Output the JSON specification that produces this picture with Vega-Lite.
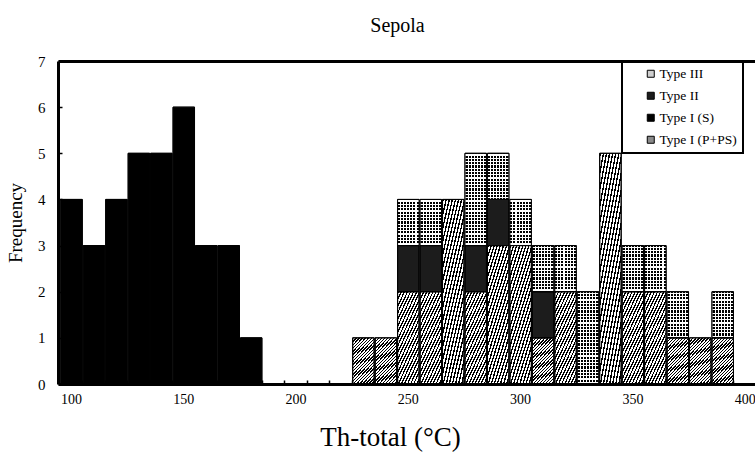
{
  "$schema": "https://vega.github.io/schema/vega-lite/v6.json",
  "width": 697,
  "height": 323,
  "autosize": {"type": "none"},
  "padding": {"left": 58, "top": 61, "right": 0, "bottom": 68},
  "background": "white",
  "title": {"text": "Sepola", "fontSize": 20, "fontWeight": "normal", "color": "black", "anchor": "middle", "frame": "group", "dx": -9, "offset": 18},
  "config": {
    "view": {"stroke": null},
    "font": "Liberation Serif",
    "legend": {"strokeWidth": 2}
  },
  "data": {"values": [
    {"lo": 95, "hi": 105, "type": "Type I (S)", "n": 4},
    {"lo": 105, "hi": 115, "type": "Type I (S)", "n": 3},
    {"lo": 115, "hi": 125, "type": "Type I (S)", "n": 4},
    {"lo": 125, "hi": 135, "type": "Type I (S)", "n": 5},
    {"lo": 135, "hi": 145, "type": "Type I (S)", "n": 5},
    {"lo": 145, "hi": 155, "type": "Type I (S)", "n": 6},
    {"lo": 155, "hi": 165, "type": "Type I (S)", "n": 3},
    {"lo": 165, "hi": 175, "type": "Type I (S)", "n": 3},
    {"lo": 175, "hi": 185, "type": "Type I (S)", "n": 1},
    {"lo": 225, "hi": 235, "type": "Type I (P+PS)", "n": 1},
    {"lo": 235, "hi": 245, "type": "Type I (P+PS)", "n": 1},
    {"lo": 245, "hi": 255, "type": "Type I (P+PS)", "n": 2},
    {"lo": 255, "hi": 265, "type": "Type I (P+PS)", "n": 2},
    {"lo": 265, "hi": 275, "type": "Type I (P+PS)", "n": 4},
    {"lo": 275, "hi": 285, "type": "Type I (P+PS)", "n": 2},
    {"lo": 285, "hi": 295, "type": "Type I (P+PS)", "n": 3},
    {"lo": 295, "hi": 305, "type": "Type I (P+PS)", "n": 3},
    {"lo": 305, "hi": 315, "type": "Type I (P+PS)", "n": 1},
    {"lo": 315, "hi": 325, "type": "Type I (P+PS)", "n": 2},
    {"lo": 335, "hi": 345, "type": "Type I (P+PS)", "n": 5},
    {"lo": 345, "hi": 355, "type": "Type I (P+PS)", "n": 2},
    {"lo": 355, "hi": 365, "type": "Type I (P+PS)", "n": 2},
    {"lo": 365, "hi": 375, "type": "Type I (P+PS)", "n": 1},
    {"lo": 375, "hi": 385, "type": "Type I (P+PS)", "n": 1},
    {"lo": 385, "hi": 395, "type": "Type I (P+PS)", "n": 1},
    {"lo": 245, "hi": 255, "type": "Type II", "n": 1},
    {"lo": 255, "hi": 265, "type": "Type II", "n": 1},
    {"lo": 275, "hi": 285, "type": "Type II", "n": 1},
    {"lo": 285, "hi": 295, "type": "Type II", "n": 1},
    {"lo": 305, "hi": 315, "type": "Type II", "n": 1},
    {"lo": 245, "hi": 255, "type": "Type III", "n": 1},
    {"lo": 255, "hi": 265, "type": "Type III", "n": 1},
    {"lo": 275, "hi": 285, "type": "Type III", "n": 2},
    {"lo": 285, "hi": 295, "type": "Type III", "n": 1},
    {"lo": 295, "hi": 305, "type": "Type III", "n": 1},
    {"lo": 305, "hi": 315, "type": "Type III", "n": 1},
    {"lo": 315, "hi": 325, "type": "Type III", "n": 1},
    {"lo": 325, "hi": 335, "type": "Type III", "n": 2},
    {"lo": 345, "hi": 355, "type": "Type III", "n": 1},
    {"lo": 355, "hi": 365, "type": "Type III", "n": 1},
    {"lo": 365, "hi": 375, "type": "Type III", "n": 1},
    {"lo": 385, "hi": 395, "type": "Type III", "n": 1}
  ]},
  "encoding": {
    "x": {
      "field": "lo", "type": "quantitative", "bin": "binned",
      "scale": {"domain": [94.2, 404.6], "nice": false, "zero": false},
      "axis": {
        "values": [100, 150, 200, 250, 300, 350, 400, 105, 115, 125, 135, 145, 155, 165, 175, 185, 195, 205, 215, 225, 235, 245, 255, 265, 275, 285, 295, 305, 315, 325, 335, 345, 355, 365, 375, 385, 395],
        "labelExpr": "datum.value % 50 === 0 ? datum.label : ''",
        "labelOverlap": false,
        "labelFlush": false,
        "tickSize": -4,
        "tickWidth": 1.5,
        "tickColor": "black",
        "tickOpacity": {"condition": {"test": "datum.value % 50 === 0", "value": 0}, "value": 1},
        "labelPadding": 12,
        "labelFontSize": 14,
        "labelColor": "black",
        "domainColor": "black",
        "domainWidth": 3,
        "grid": false,
        "title": "Th-total (°C)",
        "titleFontSize": 27,
        "titleFontWeight": "normal",
        "titleColor": "black",
        "titleX": 332,
        "titleY": 61,
        "titleAlign": "center",
        "titleBaseline": "alphabetic",
        "zindex": 1
      }
    },
    "x2": {"field": "hi"},
    "y": {
      "field": "n", "type": "quantitative", "stack": "zero",
      "scale": {"domain": [0, 7], "nice": false},
      "axis": {
        "values": [0, 1, 2, 3, 4, 5, 6, 7],
        "tickSize": -4,
        "tickWidth": 1.5,
        "tickColor": "black",
        "labelPadding": 17,
        "labelFontSize": 15,
        "labelColor": "black",
        "domainColor": "black",
        "domainWidth": 3,
        "grid": true,
        "gridColor": "black",
        "gridWidth": 3,
        "gridOpacity": {"condition": {"test": "datum.value === 7", "value": 1}, "value": 0},
        "title": "Frequency",
        "titleFontSize": 19,
        "titleFontWeight": "normal",
        "titleColor": "black",
        "titleX": -37,
        "titleY": 161.5,
        "titleAngle": -90,
        "titleAlign": "center",
        "titleBaseline": "alphabetic",
        "zindex": 1
      }
    },
    "order": {"field": "type", "type": "ordinal", "sort": "ascending"}
  },
  "layer": [
    {
      "mark": {"type": "bar", "stroke": "black", "strokeWidth": 1},
      "encoding": {
        "fill": {
          "field": "type", "type": "nominal",
          "scale": {"domain": ["Type III", "Type II", "Type I (S)", "Type I (P+PS)"], "range": ["#cfcfcf", "#1c1c1c", "#000000", "#8a8a8a"]},
          "legend": {
            "orient": "none", "legendX": 564, "legendY": 0,
            "title": null,
            "symbolType": "square", "symbolSize": 49,
            "symbolStrokeColor": "black", "symbolStrokeWidth": 1,
            "labelFontSize": 13.5, "labelColor": "black",
            "padding": 6, "symbolOffset": 16, "labelOffset": 2, "rowPadding": 7,
            "strokeColor": "black", "fillColor": "white",
            "labelExpr": "datum.label + '\u2003\u2003\u2003\u2003\u2003'",
            "labelLimit": 300
          },
          "condition": [
            {"test": "datum.type === 'Type I (P+PS)'", "value": {"gradient": "linear", "x1": 0, "y1": 0, "x2": 0.6, "y2": 1.2, "stops": [
              {"offset": 0, "color": "#000"}, {"offset": 0.0214, "color": "#000"}, {"offset": 0.0214, "color": "#fff"}, {"offset": 0.0476, "color": "#fff"},
              {"offset": 0.0476, "color": "#000"}, {"offset": 0.0690, "color": "#000"}, {"offset": 0.0690, "color": "#fff"}, {"offset": 0.0952, "color": "#fff"},
              {"offset": 0.0952, "color": "#000"}, {"offset": 0.1167, "color": "#000"}, {"offset": 0.1167, "color": "#fff"}, {"offset": 0.1429, "color": "#fff"},
              {"offset": 0.1429, "color": "#000"}, {"offset": 0.1643, "color": "#000"}, {"offset": 0.1643, "color": "#fff"}, {"offset": 0.1905, "color": "#fff"},
              {"offset": 0.1905, "color": "#000"}, {"offset": 0.2119, "color": "#000"}, {"offset": 0.2119, "color": "#fff"}, {"offset": 0.2381, "color": "#fff"},
              {"offset": 0.2381, "color": "#000"}, {"offset": 0.2595, "color": "#000"}, {"offset": 0.2595, "color": "#fff"}, {"offset": 0.2857, "color": "#fff"},
              {"offset": 0.2857, "color": "#000"}, {"offset": 0.3071, "color": "#000"}, {"offset": 0.3071, "color": "#fff"}, {"offset": 0.3333, "color": "#fff"},
              {"offset": 0.3333, "color": "#000"}, {"offset": 0.3548, "color": "#000"}, {"offset": 0.3548, "color": "#fff"}, {"offset": 0.3810, "color": "#fff"},
              {"offset": 0.3810, "color": "#000"}, {"offset": 0.4024, "color": "#000"}, {"offset": 0.4024, "color": "#fff"}, {"offset": 0.4286, "color": "#fff"},
              {"offset": 0.4286, "color": "#000"}, {"offset": 0.4500, "color": "#000"}, {"offset": 0.4500, "color": "#fff"}, {"offset": 0.4762, "color": "#fff"},
              {"offset": 0.4762, "color": "#000"}, {"offset": 0.4976, "color": "#000"}, {"offset": 0.4976, "color": "#fff"}, {"offset": 0.5238, "color": "#fff"},
              {"offset": 0.5238, "color": "#000"}, {"offset": 0.5452, "color": "#000"}, {"offset": 0.5452, "color": "#fff"}, {"offset": 0.5714, "color": "#fff"},
              {"offset": 0.5714, "color": "#000"}, {"offset": 0.5929, "color": "#000"}, {"offset": 0.5929, "color": "#fff"}, {"offset": 0.6190, "color": "#fff"},
              {"offset": 0.6190, "color": "#000"}, {"offset": 0.6405, "color": "#000"}, {"offset": 0.6405, "color": "#fff"}, {"offset": 0.6667, "color": "#fff"},
              {"offset": 0.6667, "color": "#000"}, {"offset": 0.6881, "color": "#000"}, {"offset": 0.6881, "color": "#fff"}, {"offset": 0.7143, "color": "#fff"},
              {"offset": 0.7143, "color": "#000"}, {"offset": 0.7357, "color": "#000"}, {"offset": 0.7357, "color": "#fff"}, {"offset": 0.7619, "color": "#fff"},
              {"offset": 0.7619, "color": "#000"}, {"offset": 0.7833, "color": "#000"}, {"offset": 0.7833, "color": "#fff"}, {"offset": 0.8095, "color": "#fff"},
              {"offset": 0.8095, "color": "#000"}, {"offset": 0.8310, "color": "#000"}, {"offset": 0.8310, "color": "#fff"}, {"offset": 0.8571, "color": "#fff"},
              {"offset": 0.8571, "color": "#000"}, {"offset": 0.8786, "color": "#000"}, {"offset": 0.8786, "color": "#fff"}, {"offset": 0.9048, "color": "#fff"},
              {"offset": 0.9048, "color": "#000"}, {"offset": 0.9262, "color": "#000"}, {"offset": 0.9262, "color": "#fff"}, {"offset": 0.9524, "color": "#fff"},
              {"offset": 0.9524, "color": "#000"}, {"offset": 0.9738, "color": "#000"}, {"offset": 0.9738, "color": "#fff"}, {"offset": 1, "color": "#fff"}
            ]}},
            {"test": "datum.type === 'Type III'", "value": {"gradient": "linear", "x1": 0, "y1": 0, "x2": 1, "y2": 0, "stops": [
              {"offset": 0, "color": "#fff"}, {"offset": 0.0250, "color": "#fff"}, {"offset": 0.0250, "color": "#000"}, {"offset": 0.1178, "color": "#000"},
              {"offset": 0.1178, "color": "#fff"}, {"offset": 0.1679, "color": "#fff"}, {"offset": 0.1679, "color": "#000"}, {"offset": 0.2607, "color": "#000"},
              {"offset": 0.2607, "color": "#fff"}, {"offset": 0.3107, "color": "#fff"}, {"offset": 0.3107, "color": "#000"}, {"offset": 0.4035, "color": "#000"},
              {"offset": 0.4035, "color": "#fff"}, {"offset": 0.4536, "color": "#fff"}, {"offset": 0.4536, "color": "#000"}, {"offset": 0.5464, "color": "#000"},
              {"offset": 0.5464, "color": "#fff"}, {"offset": 0.5965, "color": "#fff"}, {"offset": 0.5965, "color": "#000"}, {"offset": 0.6893, "color": "#000"},
              {"offset": 0.6893, "color": "#fff"}, {"offset": 0.7393, "color": "#fff"}, {"offset": 0.7393, "color": "#000"}, {"offset": 0.8321, "color": "#000"},
              {"offset": 0.8321, "color": "#fff"}, {"offset": 0.8822, "color": "#fff"}, {"offset": 0.8822, "color": "#000"}, {"offset": 0.9750, "color": "#000"},
              {"offset": 0.9750, "color": "#fff"}, {"offset": 1, "color": "#fff"}
            ]}}
          ]
        }
      }
    },
    {
      "mark": {"type": "bar", "stroke": "black", "strokeWidth": 1},
      "encoding": {
        "fill": {
          "condition": [
            {"test": "datum.type === 'Type III' && datum.n === 1", "value": {"gradient": "linear", "x1": 0, "y1": 0, "x2": 0, "y2": 1, "stops": [
              {"offset": 0, "color": "rgba(255,255,255,0)"}, {"offset": 0.0232, "color": "rgba(255,255,255,0)"}, {"offset": 0.0232, "color": "#fff"}, {"offset": 0.0482, "color": "#fff"},
              {"offset": 0.0482, "color": "rgba(255,255,255,0)"}, {"offset": 0.0946, "color": "rgba(255,255,255,0)"}, {"offset": 0.0946, "color": "#fff"}, {"offset": 0.1196, "color": "#fff"},
              {"offset": 0.1196, "color": "rgba(255,255,255,0)"}, {"offset": 0.1661, "color": "rgba(255,255,255,0)"}, {"offset": 0.1661, "color": "#fff"}, {"offset": 0.1911, "color": "#fff"},
              {"offset": 0.1911, "color": "rgba(255,255,255,0)"}, {"offset": 0.2375, "color": "rgba(255,255,255,0)"}, {"offset": 0.2375, "color": "#fff"}, {"offset": 0.2625, "color": "#fff"},
              {"offset": 0.2625, "color": "rgba(255,255,255,0)"}, {"offset": 0.3089, "color": "rgba(255,255,255,0)"}, {"offset": 0.3089, "color": "#fff"}, {"offset": 0.3339, "color": "#fff"},
              {"offset": 0.3339, "color": "rgba(255,255,255,0)"}, {"offset": 0.3804, "color": "rgba(255,255,255,0)"}, {"offset": 0.3804, "color": "#fff"}, {"offset": 0.4054, "color": "#fff"},
              {"offset": 0.4054, "color": "rgba(255,255,255,0)"}, {"offset": 0.4518, "color": "rgba(255,255,255,0)"}, {"offset": 0.4518, "color": "#fff"}, {"offset": 0.4768, "color": "#fff"},
              {"offset": 0.4768, "color": "rgba(255,255,255,0)"}, {"offset": 0.5232, "color": "rgba(255,255,255,0)"}, {"offset": 0.5232, "color": "#fff"}, {"offset": 0.5482, "color": "#fff"},
              {"offset": 0.5482, "color": "rgba(255,255,255,0)"}, {"offset": 0.5946, "color": "rgba(255,255,255,0)"}, {"offset": 0.5946, "color": "#fff"}, {"offset": 0.6196, "color": "#fff"},
              {"offset": 0.6196, "color": "rgba(255,255,255,0)"}, {"offset": 0.6661, "color": "rgba(255,255,255,0)"}, {"offset": 0.6661, "color": "#fff"}, {"offset": 0.6911, "color": "#fff"},
              {"offset": 0.6911, "color": "rgba(255,255,255,0)"}, {"offset": 0.7375, "color": "rgba(255,255,255,0)"}, {"offset": 0.7375, "color": "#fff"}, {"offset": 0.7625, "color": "#fff"},
              {"offset": 0.7625, "color": "rgba(255,255,255,0)"}, {"offset": 0.8089, "color": "rgba(255,255,255,0)"}, {"offset": 0.8089, "color": "#fff"}, {"offset": 0.8339, "color": "#fff"},
              {"offset": 0.8339, "color": "rgba(255,255,255,0)"}, {"offset": 0.8804, "color": "rgba(255,255,255,0)"}, {"offset": 0.8804, "color": "#fff"}, {"offset": 0.9054, "color": "#fff"},
              {"offset": 0.9054, "color": "rgba(255,255,255,0)"}, {"offset": 0.9518, "color": "rgba(255,255,255,0)"}, {"offset": 0.9518, "color": "#fff"}, {"offset": 0.9768, "color": "#fff"},
              {"offset": 0.9768, "color": "rgba(255,255,255,0)"}, {"offset": 1, "color": "rgba(255,255,255,0)"}
            ]}},
            {"test": "datum.type === 'Type III' && datum.n === 2", "value": {"gradient": "linear", "x1": 0, "y1": 0, "x2": 0, "y2": 1, "stops": [
              {"offset": 0, "color": "rgba(255,255,255,0)"}, {"offset": 0.0116, "color": "rgba(255,255,255,0)"}, {"offset": 0.0116, "color": "#fff"}, {"offset": 0.0241, "color": "#fff"},
              {"offset": 0.0241, "color": "rgba(255,255,255,0)"}, {"offset": 0.0473, "color": "rgba(255,255,255,0)"}, {"offset": 0.0473, "color": "#fff"}, {"offset": 0.0598, "color": "#fff"},
              {"offset": 0.0598, "color": "rgba(255,255,255,0)"}, {"offset": 0.0830, "color": "rgba(255,255,255,0)"}, {"offset": 0.0830, "color": "#fff"}, {"offset": 0.0955, "color": "#fff"},
              {"offset": 0.0955, "color": "rgba(255,255,255,0)"}, {"offset": 0.1188, "color": "rgba(255,255,255,0)"}, {"offset": 0.1188, "color": "#fff"}, {"offset": 0.1313, "color": "#fff"},
              {"offset": 0.1313, "color": "rgba(255,255,255,0)"}, {"offset": 0.1545, "color": "rgba(255,255,255,0)"}, {"offset": 0.1545, "color": "#fff"}, {"offset": 0.1670, "color": "#fff"},
              {"offset": 0.1670, "color": "rgba(255,255,255,0)"}, {"offset": 0.1902, "color": "rgba(255,255,255,0)"}, {"offset": 0.1902, "color": "#fff"}, {"offset": 0.2027, "color": "#fff"},
              {"offset": 0.2027, "color": "rgba(255,255,255,0)"}, {"offset": 0.2259, "color": "rgba(255,255,255,0)"}, {"offset": 0.2259, "color": "#fff"}, {"offset": 0.2384, "color": "#fff"},
              {"offset": 0.2384, "color": "rgba(255,255,255,0)"}, {"offset": 0.2616, "color": "rgba(255,255,255,0)"}, {"offset": 0.2616, "color": "#fff"}, {"offset": 0.2741, "color": "#fff"},
              {"offset": 0.2741, "color": "rgba(255,255,255,0)"}, {"offset": 0.2973, "color": "rgba(255,255,255,0)"}, {"offset": 0.2973, "color": "#fff"}, {"offset": 0.3098, "color": "#fff"},
              {"offset": 0.3098, "color": "rgba(255,255,255,0)"}, {"offset": 0.3330, "color": "rgba(255,255,255,0)"}, {"offset": 0.3330, "color": "#fff"}, {"offset": 0.3455, "color": "#fff"},
              {"offset": 0.3455, "color": "rgba(255,255,255,0)"}, {"offset": 0.3688, "color": "rgba(255,255,255,0)"}, {"offset": 0.3688, "color": "#fff"}, {"offset": 0.3813, "color": "#fff"},
              {"offset": 0.3813, "color": "rgba(255,255,255,0)"}, {"offset": 0.4045, "color": "rgba(255,255,255,0)"}, {"offset": 0.4045, "color": "#fff"}, {"offset": 0.4170, "color": "#fff"},
              {"offset": 0.4170, "color": "rgba(255,255,255,0)"}, {"offset": 0.4402, "color": "rgba(255,255,255,0)"}, {"offset": 0.4402, "color": "#fff"}, {"offset": 0.4527, "color": "#fff"},
              {"offset": 0.4527, "color": "rgba(255,255,255,0)"}, {"offset": 0.4759, "color": "rgba(255,255,255,0)"}, {"offset": 0.4759, "color": "#fff"}, {"offset": 0.4884, "color": "#fff"},
              {"offset": 0.4884, "color": "rgba(255,255,255,0)"}, {"offset": 0.5116, "color": "rgba(255,255,255,0)"}, {"offset": 0.5116, "color": "#fff"}, {"offset": 0.5241, "color": "#fff"},
              {"offset": 0.5241, "color": "rgba(255,255,255,0)"}, {"offset": 0.5473, "color": "rgba(255,255,255,0)"}, {"offset": 0.5473, "color": "#fff"}, {"offset": 0.5598, "color": "#fff"},
              {"offset": 0.5598, "color": "rgba(255,255,255,0)"}, {"offset": 0.5830, "color": "rgba(255,255,255,0)"}, {"offset": 0.5830, "color": "#fff"}, {"offset": 0.5955, "color": "#fff"},
              {"offset": 0.5955, "color": "rgba(255,255,255,0)"}, {"offset": 0.6188, "color": "rgba(255,255,255,0)"}, {"offset": 0.6188, "color": "#fff"}, {"offset": 0.6313, "color": "#fff"},
              {"offset": 0.6313, "color": "rgba(255,255,255,0)"}, {"offset": 0.6545, "color": "rgba(255,255,255,0)"}, {"offset": 0.6545, "color": "#fff"}, {"offset": 0.6670, "color": "#fff"},
              {"offset": 0.6670, "color": "rgba(255,255,255,0)"}, {"offset": 0.6902, "color": "rgba(255,255,255,0)"}, {"offset": 0.6902, "color": "#fff"}, {"offset": 0.7027, "color": "#fff"},
              {"offset": 0.7027, "color": "rgba(255,255,255,0)"}, {"offset": 0.7259, "color": "rgba(255,255,255,0)"}, {"offset": 0.7259, "color": "#fff"}, {"offset": 0.7384, "color": "#fff"},
              {"offset": 0.7384, "color": "rgba(255,255,255,0)"}, {"offset": 0.7616, "color": "rgba(255,255,255,0)"}, {"offset": 0.7616, "color": "#fff"}, {"offset": 0.7741, "color": "#fff"},
              {"offset": 0.7741, "color": "rgba(255,255,255,0)"}, {"offset": 0.7973, "color": "rgba(255,255,255,0)"}, {"offset": 0.7973, "color": "#fff"}, {"offset": 0.8098, "color": "#fff"},
              {"offset": 0.8098, "color": "rgba(255,255,255,0)"}, {"offset": 0.8330, "color": "rgba(255,255,255,0)"}, {"offset": 0.8330, "color": "#fff"}, {"offset": 0.8455, "color": "#fff"},
              {"offset": 0.8455, "color": "rgba(255,255,255,0)"}, {"offset": 0.8688, "color": "rgba(255,255,255,0)"}, {"offset": 0.8688, "color": "#fff"}, {"offset": 0.8813, "color": "#fff"},
              {"offset": 0.8813, "color": "rgba(255,255,255,0)"}, {"offset": 0.9045, "color": "rgba(255,255,255,0)"}, {"offset": 0.9045, "color": "#fff"}, {"offset": 0.9170, "color": "#fff"},
              {"offset": 0.9170, "color": "rgba(255,255,255,0)"}, {"offset": 0.9402, "color": "rgba(255,255,255,0)"}, {"offset": 0.9402, "color": "#fff"}, {"offset": 0.9527, "color": "#fff"},
              {"offset": 0.9527, "color": "rgba(255,255,255,0)"}, {"offset": 0.9759, "color": "rgba(255,255,255,0)"}, {"offset": 0.9759, "color": "#fff"}, {"offset": 0.9884, "color": "#fff"},
              {"offset": 0.9884, "color": "rgba(255,255,255,0)"}, {"offset": 1, "color": "rgba(255,255,255,0)"}
            ]}}
          ],
          "value": "transparent"
        }
      }
    }
  ]
}
